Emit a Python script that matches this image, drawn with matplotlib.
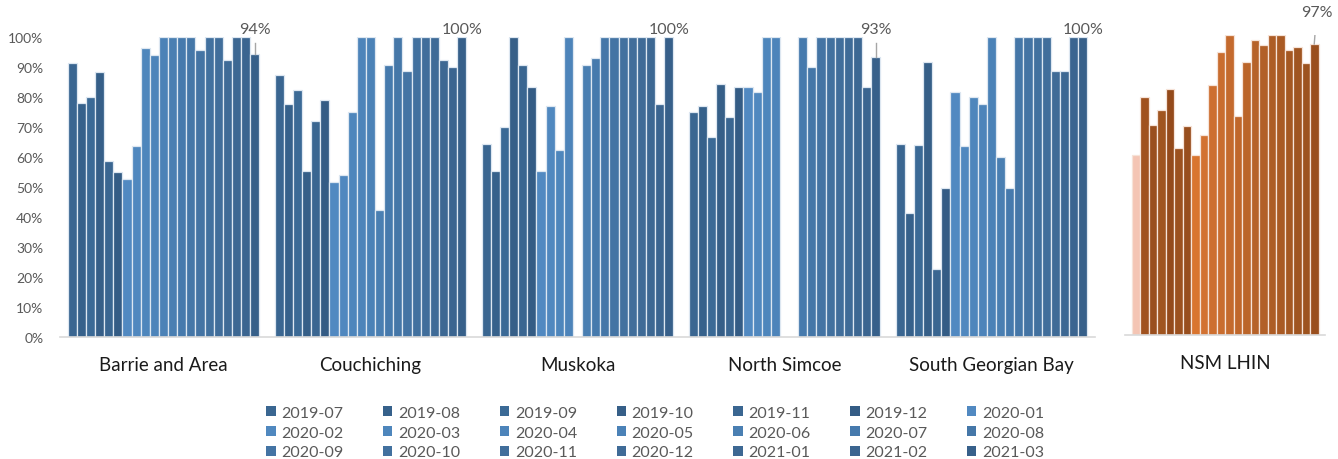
import numpy as np
import matplotlib
matplotlib.use("Agg")
import matplotlib.pyplot as plt
from matplotlib.patches import Patch

plt.rcParams['font.family'] = ['Lato', 'DejaVu Sans']

# Sub-region categories and monthly series
regions = ["Barrie and Area", "Couchiching", "Muskoka", "North Simcoe", "South Georgian Bay"]
months = ["2019-07", "2019-08", "2019-09", "2019-10", "2019-11", "2019-12",
          "2020-01", "2020-02", "2020-03", "2020-04", "2020-05", "2020-06",
          "2020-07", "2020-08", "2020-09", "2020-10", "2020-11", "2020-12",
          "2021-01", "2021-02", "2021-03"]

nan = np.nan
barrie = [91.5, 78.0, 79.9, 88.2, 58.7, 55.0, 52.8, 63.8, 96.5, 93.9, 100,
          100, 100, 100, 95.8, 100, 100, 92.4, 100, 100, 94.2]
couchiching = [87.5, 77.8, 82.3, 55.3, 72.0, 79.0, 51.6, 53.9, 75.0, 100, 100,
               42.5, 90.8, 100, 88.7, 100, 100, 100, 92.4, 89.9, 100]
muskoka = [64.5, 55.2, 69.9, 100, 90.8, 83.2, 55.2, 76.9, 62.2, 100, nan,
           90.8, 93.0, 100, 100, 100, 100, 100, 100, 77.8, 100]
north_simcoe = [75.0, 76.9, 66.6, 84.4, 73.2, 83.2, 83.2, 81.8, 100, 100, nan,
                nan, 100, 89.9, 100, 100, 100, 100, 100, 83.2, 93.3]
south_georgian = [64.5, 41.3, 64.1, 91.7, 22.8, 49.7, 81.7, 63.6, 79.9, 77.7, 100,
                  59.9, 49.7, 100, 100, 100, 100, 88.6, 88.6, 100, 100]
region_values = [barrie, couchiching, muskoka, north_simcoe, south_georgian]
region_labels = ["94%", "100%", "100%", "93%", "100%"]

# NSM LHIN: one earlier reference bar followed by the 21 months
lhin_values = [60.1, 79.3, 70.1, 74.9, 82.0, 62.3, 69.6, 60.1, 66.7, 83.2, 94.3,
               100, 73.1, 91.0, 98.4, 96.7, 100, 100, 94.9, 96.0, 90.8, 97.0]
lhin_label = "97%"

blues = ["#3a6691", "#36618b", "#3b6a96", "#365f88", "#3a6691", "#345c85",
         "#5189c1", "#5088bf", "#4e86bc", "#4d84ba", "#4b82b7", "#4a7fb2",
         "#467aad", "#4577a8", "#4474a4", "#42719f", "#416e9b", "#3f6b97",
         "#3d6893", "#3b6590", "#37608a"]
oranges = ["#f4c5b4", "#a0521f", "#9a4f1e", "#a05520", "#944a1b", "#9c511f", "#984e1e",
           "#d9752f", "#d27232", "#cd6f30", "#c96d2f", "#c46a2d", "#c0672b", "#bb652a",
           "#b66229", "#b26028", "#ad5d26", "#a95a24", "#a55822", "#a05521", "#9d531f",
           "#9a4f1e"]

W, H = 13.38, 4.60
fig = plt.figure(figsize=(W, H), dpi=100)

def fx(px):
    return px / 1338.0

def fy(px):
    return 1 - px / 460.0

grey = "#595959"

# ---- left panel: sub-regions ----
ax = fig.add_axes([fx(60), fy(338), fx(1095) - fx(60), fy(38) - fy(338)])
n = len(months)
pitch = 0.927 / n
x = np.arange(len(regions))
for i, m in enumerate(months):
    vals = np.array([rv[i] for rv in region_values]) / 100.0
    ax.bar(x + (i - (n - 1) / 2) * pitch, vals, width=pitch, color=blues[i],
           edgecolor="#dde7f1", linewidth=0.9, label=m)

for j, lab in enumerate(region_labels):
    xb = x[j] + (n - 1) / 2 * pitch
    v = region_values[j][-1] / 100.0
    ax.text(xb, 1.027, lab, ha="center", va="center", fontsize=11.5, color=grey)
    if v < 0.975:
        ax.plot([xb, xb], [v, 0.98], color="#a6a6a6", linewidth=1)

ax.set_xlim(-0.5, len(regions) - 0.5)
ax.set_ylim(0, 1)
ax.set_yticks(np.arange(0, 1.01, 0.1))
ax.set_yticklabels(["%d%%" % round(t * 100) for t in np.arange(0, 1.01, 0.1)])
ax.set_xticks(x)
ax.set_xticklabels(regions, fontsize=13.5, color="#1a1a1a")
ax.tick_params(axis="y", length=0, pad=12, labelsize=10, labelcolor=grey)
ax.tick_params(axis="x", length=0, pad=14)
for s in ["top", "right", "left"]:
    ax.spines[s].set_visible(False)
ax.spines["bottom"].set_color("#d9d9d9")
ax.spines["bottom"].set_linewidth(1.2)

# ---- right panel: NSM LHIN ----
ax2 = fig.add_axes([fx(1125), fy(336), fx(1325) - fx(1125), fy(36) - fy(336)])
m2 = len(lhin_values)
pitch2 = 0.935 / m2
for i, v in enumerate(lhin_values):
    ax2.bar((i - (m2 - 1) / 2) * pitch2, v / 100.0, width=pitch2, color=oranges[i],
            edgecolor="#f6e3d8", linewidth=0.9)
xl = (m2 - 1) / 2 * pitch2
ax2.text(xl + 0.012, 1.077, lhin_label, ha="center", va="center", fontsize=11.5, color=grey)
ax2.plot([xl, xl + 0.008], [lhin_values[-1] / 100.0, 1.04], color="#a6a6a6", linewidth=1)
ax2.set_xlim(-0.5, 0.5)
ax2.set_ylim(0, 1)
ax2.set_yticks([])
ax2.set_xticks([0])
ax2.set_xticklabels(["NSM LHIN"], fontsize=13.5, color="#1a1a1a")
ax2.tick_params(axis="x", length=0, pad=14)
for s in ["top", "right", "left"]:
    ax2.spines[s].set_visible(False)
ax2.spines["bottom"].set_color("#d9d9d9")
ax2.spines["bottom"].set_linewidth(1.2)

# ---- legend, filled row by row ----
handles = [Patch(facecolor=blues[i], edgecolor="none") for i in range(n)]
rows, cols = 3, 7
order = [r * cols + c for c in range(cols) for r in range(rows)]
leg = fig.legend([handles[k] for k in order], [months[k] for k in order],
                 ncol=cols, loc="upper left", bbox_to_anchor=(fx(266), fy(407)),
                 frameon=False, fontsize=11.5, handlelength=0.6, handleheight=0.6,
                 handletextpad=0.35, columnspacing=2.47, labelspacing=0.36,
                 borderaxespad=0, borderpad=0)
for t in leg.get_texts():
    t.set_color(grey)

fig.savefig("out.png", dpi=100)
